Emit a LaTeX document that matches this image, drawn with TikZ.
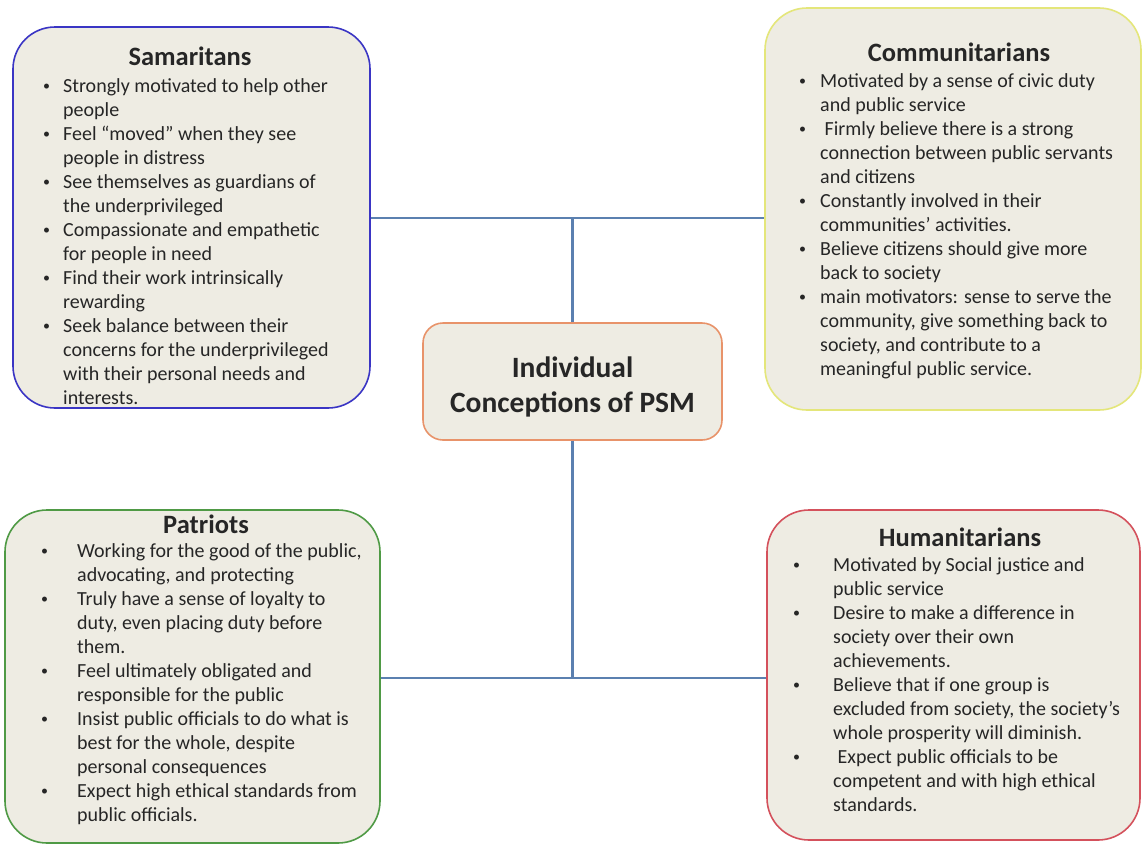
\documentclass[tikz,border=0pt]{standalone}
\usepackage{fontspec}
\setmainfont{Carlito}
\definecolor{boxfill}{HTML}{EEECE3}
\definecolor{samc}{HTML}{3A35C4}
\definecolor{comc}{HTML}{E4E67A}
\definecolor{patc}{HTML}{4F9A45}
\definecolor{humc}{HTML}{D4515C}
\definecolor{cenc}{HTML}{E8936A}
\definecolor{linec}{HTML}{5B80B0}
\definecolor{txt}{HTML}{262626}
\newcommand\blt{\raisebox{0.15ex}{\scalebox{0.7}{•}}}
\newcommand\blist[2]{{\setlength\tabcolsep{0pt}\renewcommand\arraystretch{1}%
\begin{tabular}[t]{@{}p{#1}@{}l@{}}#2\end{tabular}}}
\begin{document}
\begin{tikzpicture}[x=1pt,y=-1pt,
  bigbox/.style={draw, line width=1.6pt, fill=boxfill, rounded corners=42pt, inner sep=0pt},
  title/.style={anchor=base, font=\fontsize{26.5}{30}\selectfont\bfseries, text=txt, inner sep=0pt},
  body/.style={anchor=base west, font=\fontsize{20}{24}\selectfont, text=txt, inner sep=0pt},
  conn/.style={draw=linec, line width=2.6pt}]
\useasboundingbox (0,0) rectangle (1143,846);
\fill[white] (0,0) rectangle (1143,846);
% boxes
\node[bigbox, draw=samc, minimum width=357pt, minimum height=381pt] (sam) at (191.5,217.5) {};
\node[bigbox, draw=comc, minimum width=376pt, minimum height=402pt] (com) at (953,209) {};
\node[bigbox, draw=patc, minimum width=375pt, minimum height=333pt] (pat) at (192.5,676.5) {};
\node[bigbox, draw=humc, minimum width=373pt, minimum height=330pt] (hum) at (953.5,675) {};
\node[draw=cenc, line width=1.6pt, fill=boxfill, rounded corners=20pt, minimum width=299pt, minimum height=117pt, inner sep=0pt] (cen) at (572.5,381.5) {};
\node[align=center, font=\fontsize{29.5}{35}\selectfont\bfseries, text=txt, inner sep=0pt] (cent) at ([yshift=-5pt]cen.center) {Individual\\Conceptions of PSM};
% connectors
\coordinate (j1) at (572.5,218);
\coordinate (j2) at (572.5,678);
\draw[conn] (sam.east |- j1) -- (com.west |- j1);
\draw[conn] (j1) -- (cen.north);
\draw[conn] (cen.south) -- (j2);
\draw[conn] (pat.east |- j2) -- (hum.west |- j2);
% Samaritans
\node[title] (samt) at (190,65) {Samaritans};
\node[body] (samb) at (43,92) {\blist{20pt}{%
\blt & Strongly motivated to help other\\
 & people\\
\blt & Feel “moved” when they see\\
 & people in distress\\
\blt & See themselves as guardians of\\
 & the underprivileged\\
\blt & Compassionate and empathetic\\
 & for people in need\\
\blt & Find their work intrinsically\\
 & rewarding\\
\blt & Seek balance between their\\
 & concerns for the underprivileged\\
 & with their personal needs and\\
 & interests.}};
% Communitarians
\node[title] (comt) at (959,61) {Communitarians};
\node[body] (comb) at (799,87) {\blist{21pt}{%
\blt & Motivated by a sense of civic duty\\
 & and public service\\
\blt & \ Firmly believe there is a strong\\
 & connection between public servants\\
 & and citizens\\
\blt & Constantly involved in their\\
 & communities’ activities.\\
\blt & Believe citizens should give more\\
 & back to society\\
\blt & main motivators: sense to serve the\\
 & community, give something back to\\
 & society, and contribute to a\\
 & meaningful public service.}};
% Patriots
\node[title] (patt) at (206,533) {Patriots};
\node[body] (patb) at (41,557) {\blist{36pt}{%
\blt & Working for the good of the public,\\
 & advocating, and protecting\\
\blt & Truly have a sense of loyalty to\\
 & duty, even placing duty before\\
 & them.\\
\blt & Feel ultimately obligated and\\
 & responsible for the public\\
\blt & Insist public officials to do what is\\
 & best for the whole, despite\\
 & personal consequences\\
\blt & Expect high ethical standards from\\
 & public officials.}};
% Humanitarians
\node[title] (humt) at (960,546) {Humanitarians};
\node[body] (humb) at (793,571) {\blist{40pt}{%
\blt & Motivated by Social justice and\\
 & public service\\
\blt & Desire to make a difference in\\
 & society over their own\\
 & achievements.\\
\blt & Believe that if one group is\\
 & excluded from society, the society’s\\
 & whole prosperity will diminish.\\
\blt & \ Expect public officials to be\\
 & competent and with high ethical\\
 & standards.}};
\end{tikzpicture}
\end{document}
